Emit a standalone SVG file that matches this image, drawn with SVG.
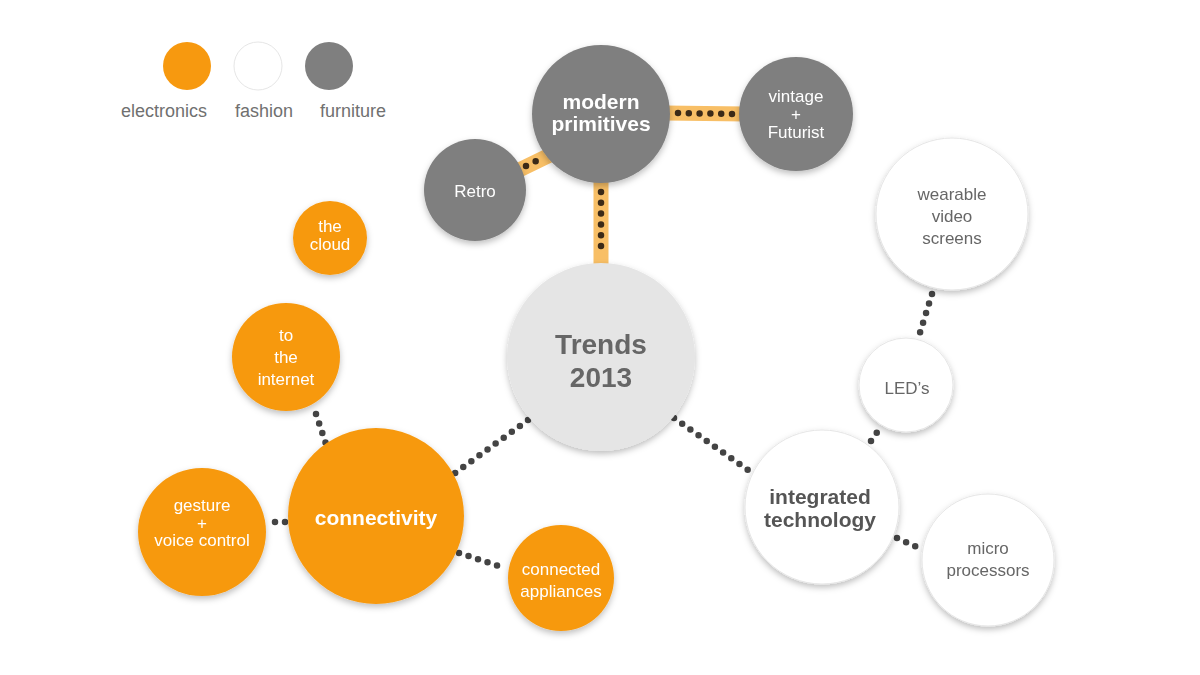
<svg xmlns="http://www.w3.org/2000/svg" width="1200" height="675" viewBox="0 0 1200 675">
<defs>
<filter id="sh" x="-20%" y="-20%" width="140%" height="150%">
<feDropShadow dx="0" dy="3" stdDeviation="3" flood-color="#000" flood-opacity="0.25"/>
</filter>
<style>
.el{fill:#f7990f}
.fa{fill:#ffffff;stroke:#e6e6e6;stroke-width:1}
.fu{fill:#7f7f7f}
.t{font-family:"Liberation Sans",Arial,sans-serif;text-anchor:middle}
.tw{fill:#ffffff}
.tg{fill:#666666}
.band{stroke:#f8bf66;stroke-width:15;fill:none}
.bd{stroke:#3b2a17;stroke-width:6.5;stroke-linecap:round;stroke-dasharray:0 10.8;fill:none}
.dd{stroke:#444444;stroke-width:6.5;stroke-linecap:round;stroke-dasharray:0 10;fill:none}
</style>
</defs>
<rect width="1200" height="675" fill="#ffffff"/>

<g id="legend">
<circle cx="187" cy="66" r="24" class="el"/>
<circle cx="258" cy="66" r="24" class="fa"/>
<circle cx="329" cy="66" r="24" class="fu"/>
<text x="164" y="117" class="t" font-size="18" fill="#707070">electronics</text>
<text x="264" y="117" class="t" font-size="18" fill="#707070">fashion</text>
<text x="353" y="117" class="t" font-size="18" fill="#707070">furniture</text>
</g>

<g id="connectors">
<line x1="665" y1="113" x2="745" y2="114" class="band"/>
<line x1="678" y1="113" x2="733" y2="114" class="bd"/>
<line x1="515" y1="172" x2="550" y2="155" class="band"/>
<line x1="526" y1="166" x2="538" y2="160" class="bd"/>
<line x1="601" y1="178" x2="601" y2="268" class="band"/>
<line x1="601" y1="192" x2="601" y2="255" class="bd"/>
<line x1="528" y1="420" x2="455" y2="473" class="dd"/>
<line x1="674" y1="418" x2="748" y2="470" class="dd"/>
<line x1="316" y1="414" x2="326" y2="444" class="dd"/>
<line x1="275" y1="522" x2="287" y2="522" class="dd"/>
<line x1="459" y1="553" x2="505" y2="568" class="dd"/>
<line x1="871" y1="441" x2="878" y2="431" class="dd"/>
<line x1="932" y1="294" x2="918" y2="339" class="dd"/>
<line x1="897" y1="538" x2="919" y2="548" class="dd"/>
</g>

<g id="modern-primitives" filter="url(#sh)">
<circle cx="601" cy="114" r="69" class="fu"/>
<text x="601" y="109" class="t tw" font-size="21" font-weight="bold">modern</text>
<text x="601" y="131" class="t tw" font-size="21" font-weight="bold">primitives</text>
</g>
<g id="vintage-futurist" filter="url(#sh)">
<circle cx="796" cy="114" r="57" class="fu"/>
<text x="796" y="102" class="t tw" font-size="17">vintage</text>
<text x="796" y="120" class="t tw" font-size="17">+</text>
<text x="796" y="138" class="t tw" font-size="17">Futurist</text>
</g>
<g id="retro" filter="url(#sh)">
<circle cx="475" cy="190" r="51" class="fu"/>
<text x="475" y="197" class="t tw" font-size="17">Retro</text>
</g>
<g id="trends" filter="url(#sh)">
<circle cx="601" cy="357" r="94" fill="#e5e5e5"/>
<text x="601" y="354" class="t" font-size="28" font-weight="bold" fill="#666666">Trends</text>
<text x="601" y="387" class="t" font-size="28" font-weight="bold" fill="#666666">2013</text>
</g>
<g id="the-cloud" filter="url(#sh)">
<circle cx="330" cy="238" r="37" class="el"/>
<text x="330" y="232" class="t tw" font-size="17">the</text>
<text x="330" y="250" class="t tw" font-size="17">cloud</text>
</g>
<g id="to-the-internet" filter="url(#sh)">
<circle cx="286" cy="357" r="54" class="el"/>
<text x="286" y="341" class="t tw" font-size="17">to</text>
<text x="286" y="363" class="t tw" font-size="17">the</text>
<text x="286" y="385" class="t tw" font-size="17">internet</text>
</g>
<g id="connectivity" filter="url(#sh)">
<circle cx="376" cy="516" r="88" class="el"/>
<text x="376" y="525" class="t tw" font-size="21" font-weight="bold">connectivity</text>
</g>
<g id="gesture-voice" filter="url(#sh)">
<circle cx="202" cy="532" r="64" class="el"/>
<text x="202" y="511" class="t tw" font-size="17">gesture</text>
<text x="202" y="529" class="t tw" font-size="17">+</text>
<text x="202" y="546" class="t tw" font-size="17">voice control</text>
</g>
<g id="connected-appliances" filter="url(#sh)">
<circle cx="561" cy="578" r="53" class="el"/>
<text x="561" y="575" class="t tw" font-size="17">connected</text>
<text x="561" y="597" class="t tw" font-size="17">appliances</text>
</g>
<g id="integrated-technology" filter="url(#sh)">
<circle cx="822" cy="507" r="77" class="fa"/>
<text x="820" y="504" class="t" font-size="21" font-weight="bold" fill="#555555">integrated</text>
<text x="820" y="527" class="t" font-size="21" font-weight="bold" fill="#555555">technology</text>
</g>
<g id="leds" filter="url(#sh)">
<circle cx="906" cy="385" r="47" class="fa"/>
<text x="907" y="394" class="t tg" font-size="17">LED’s</text>
</g>
<g id="wearable" filter="url(#sh)">
<circle cx="952" cy="214" r="76" class="fa"/>
<text x="952" y="200" class="t tg" font-size="17">wearable</text>
<text x="952" y="222" class="t tg" font-size="17">video</text>
<text x="952" y="244" class="t tg" font-size="17">screens</text>
</g>
<g id="micro-processors" filter="url(#sh)">
<circle cx="988" cy="560" r="66" class="fa"/>
<text x="988" y="554" class="t tg" font-size="17">micro</text>
<text x="988" y="576" class="t tg" font-size="17">processors</text>
</g>
</svg>
